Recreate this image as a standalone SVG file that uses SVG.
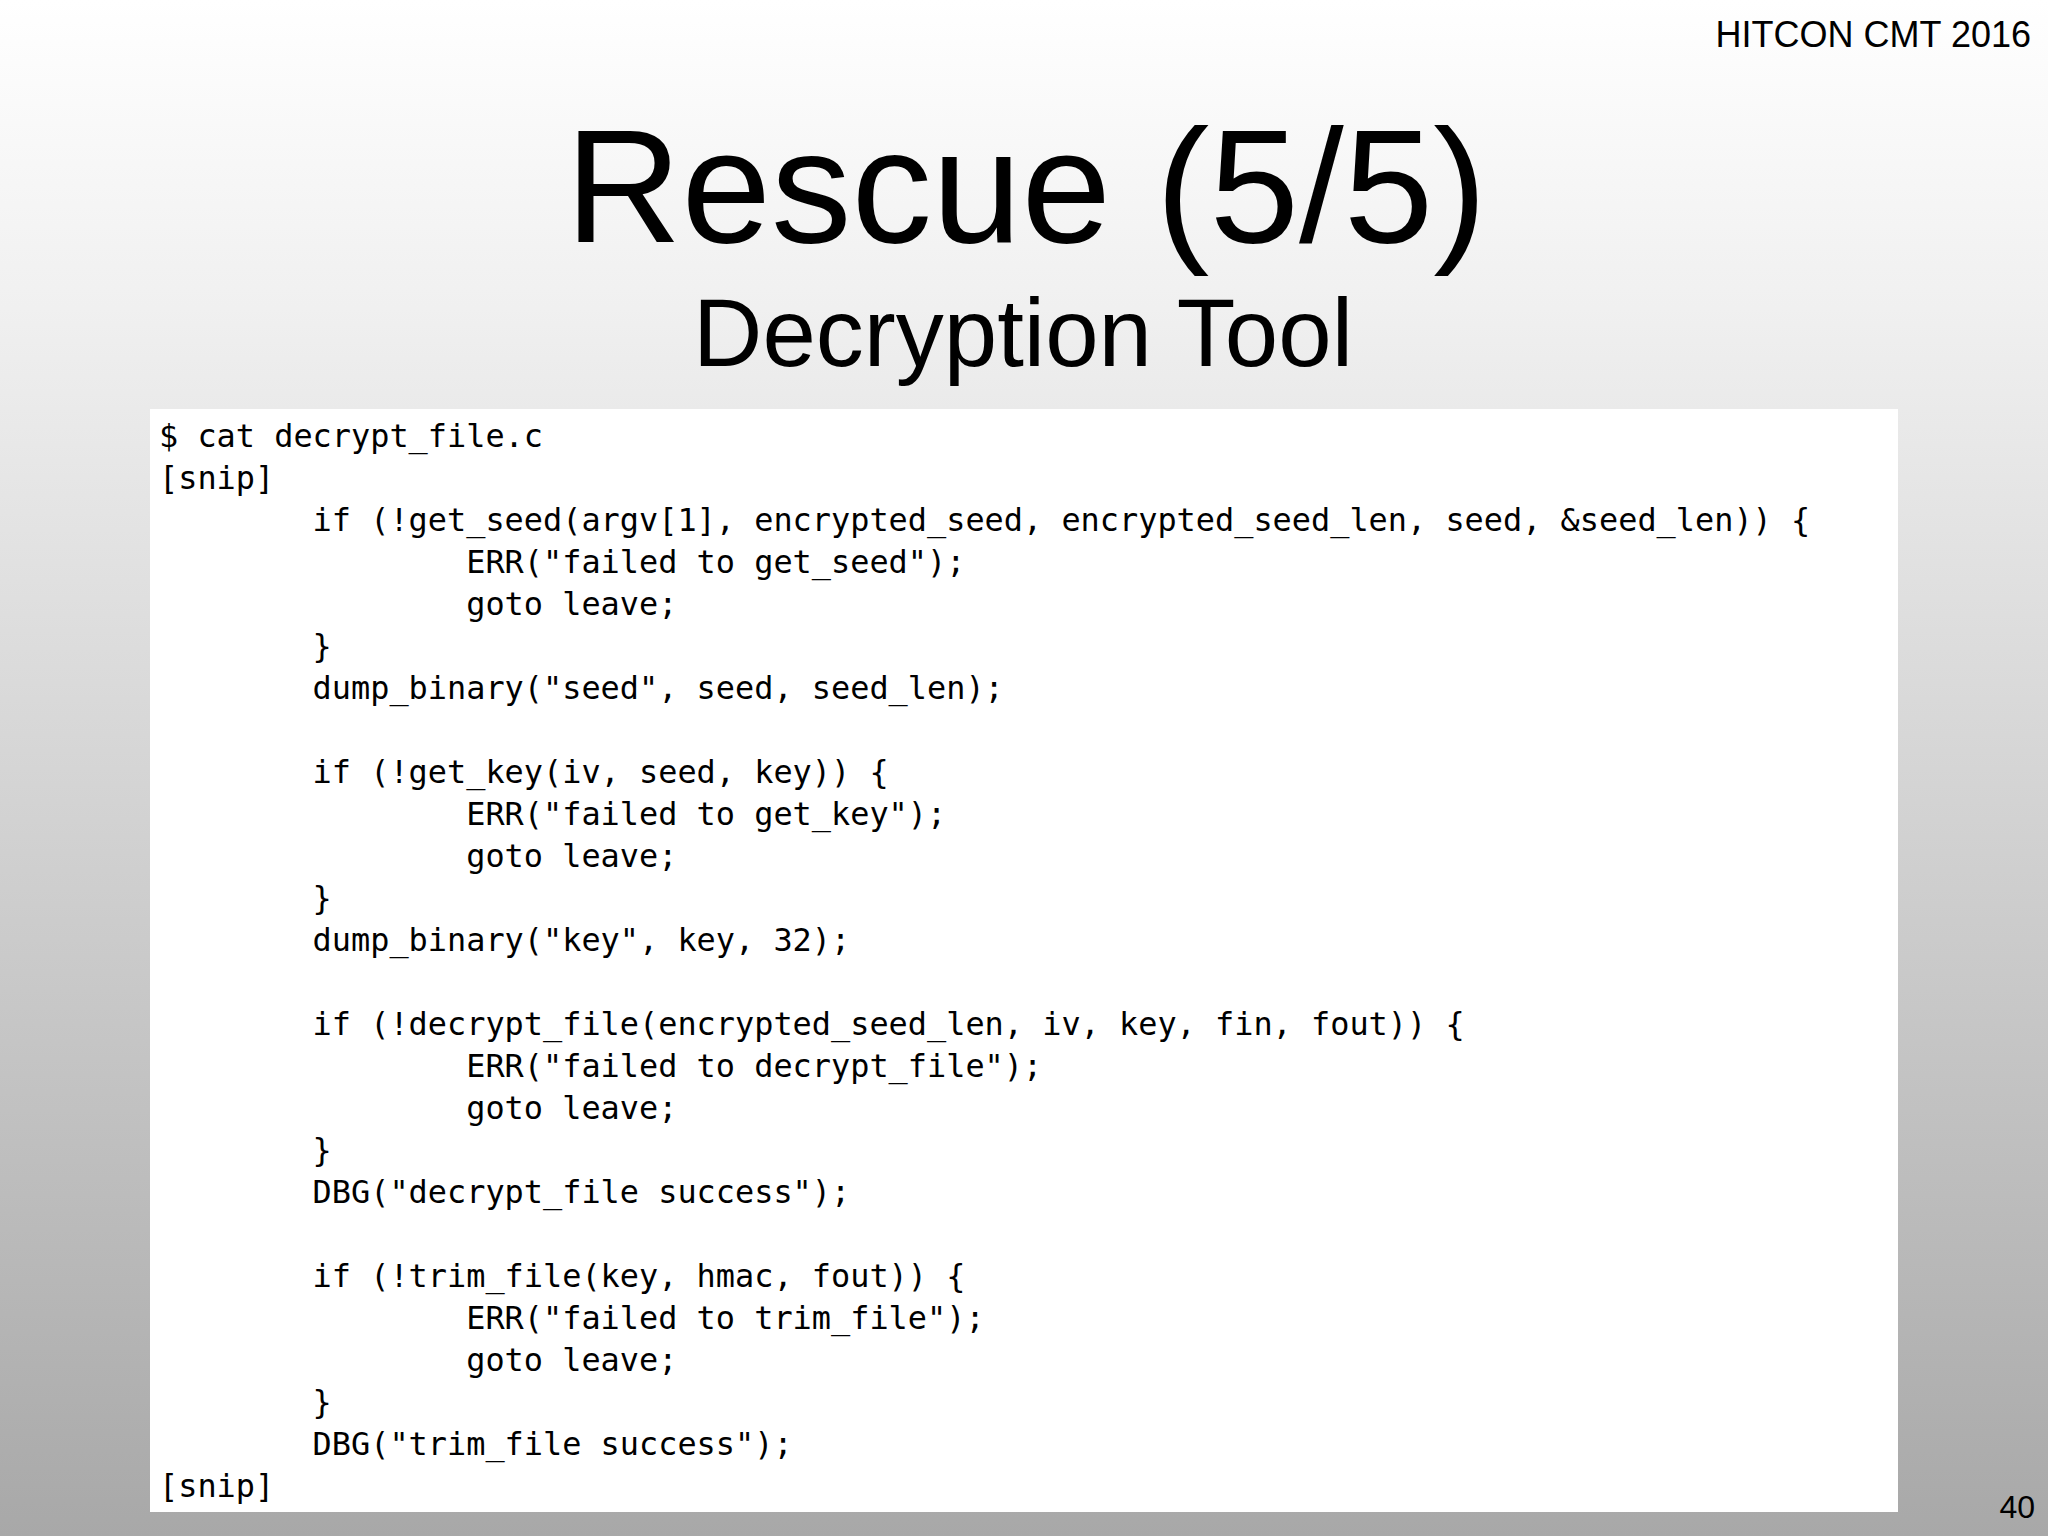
<svg xmlns="http://www.w3.org/2000/svg" width="2048" height="1536" viewBox="0 0 2048 1536">
<defs>
<linearGradient id="bg" x1="0" y1="0" x2="0" y2="1">
<stop offset="0" stop-color="#ffffff"/>
<stop offset="0.2" stop-color="#f0f0f0"/>
<stop offset="1" stop-color="#a8a8a8"/>
</linearGradient>
</defs>
<style>
.s{font-family:"Liberation Sans",Arial,sans-serif;fill:#000}
.c{font-family:"DejaVu Sans Mono","Liberation Mono",monospace;font-size:31.9px;fill:#000}
</style>
<rect width="2048" height="1536" fill="url(#bg)"/>
<text class="s" x="2031" y="47" font-size="36" text-anchor="end">HITCON CMT 2016</text>
<text class="s" x="1026" y="242" font-size="161" text-anchor="middle">Rescue (5/5)</text>
<text class="s" x="1023" y="366" font-size="96" text-anchor="middle">Decryption Tool</text>
<rect x="150" y="409" width="1748" height="1103" fill="#ffffff"/>
<text class="c" xml:space="preserve">
<tspan x="159" y="447">$ cat decrypt_file.c</tspan>
<tspan x="159" y="489">[snip]</tspan>
<tspan x="159" y="531">        if (!get_seed(argv[1], encrypted_seed, encrypted_seed_len, seed, &amp;seed_len)) {</tspan>
<tspan x="159" y="573">                ERR("failed to get_seed");</tspan>
<tspan x="159" y="615">                goto leave;</tspan>
<tspan x="159" y="657">        }</tspan>
<tspan x="159" y="699">        dump_binary("seed", seed, seed_len);</tspan>
<tspan x="159" y="783">        if (!get_key(iv, seed, key)) {</tspan>
<tspan x="159" y="825">                ERR("failed to get_key");</tspan>
<tspan x="159" y="867">                goto leave;</tspan>
<tspan x="159" y="909">        }</tspan>
<tspan x="159" y="951">        dump_binary("key", key, 32);</tspan>
<tspan x="159" y="1035">        if (!decrypt_file(encrypted_seed_len, iv, key, fin, fout)) {</tspan>
<tspan x="159" y="1077">                ERR("failed to decrypt_file");</tspan>
<tspan x="159" y="1119">                goto leave;</tspan>
<tspan x="159" y="1161">        }</tspan>
<tspan x="159" y="1203">        DBG("decrypt_file success");</tspan>
<tspan x="159" y="1287">        if (!trim_file(key, hmac, fout)) {</tspan>
<tspan x="159" y="1329">                ERR("failed to trim_file");</tspan>
<tspan x="159" y="1371">                goto leave;</tspan>
<tspan x="159" y="1413">        }</tspan>
<tspan x="159" y="1455">        DBG("trim_file success");</tspan>
<tspan x="159" y="1497">[snip]</tspan>
</text>
<text class="s" x="2035" y="1518" font-size="32" text-anchor="end">40</text>
</svg>
